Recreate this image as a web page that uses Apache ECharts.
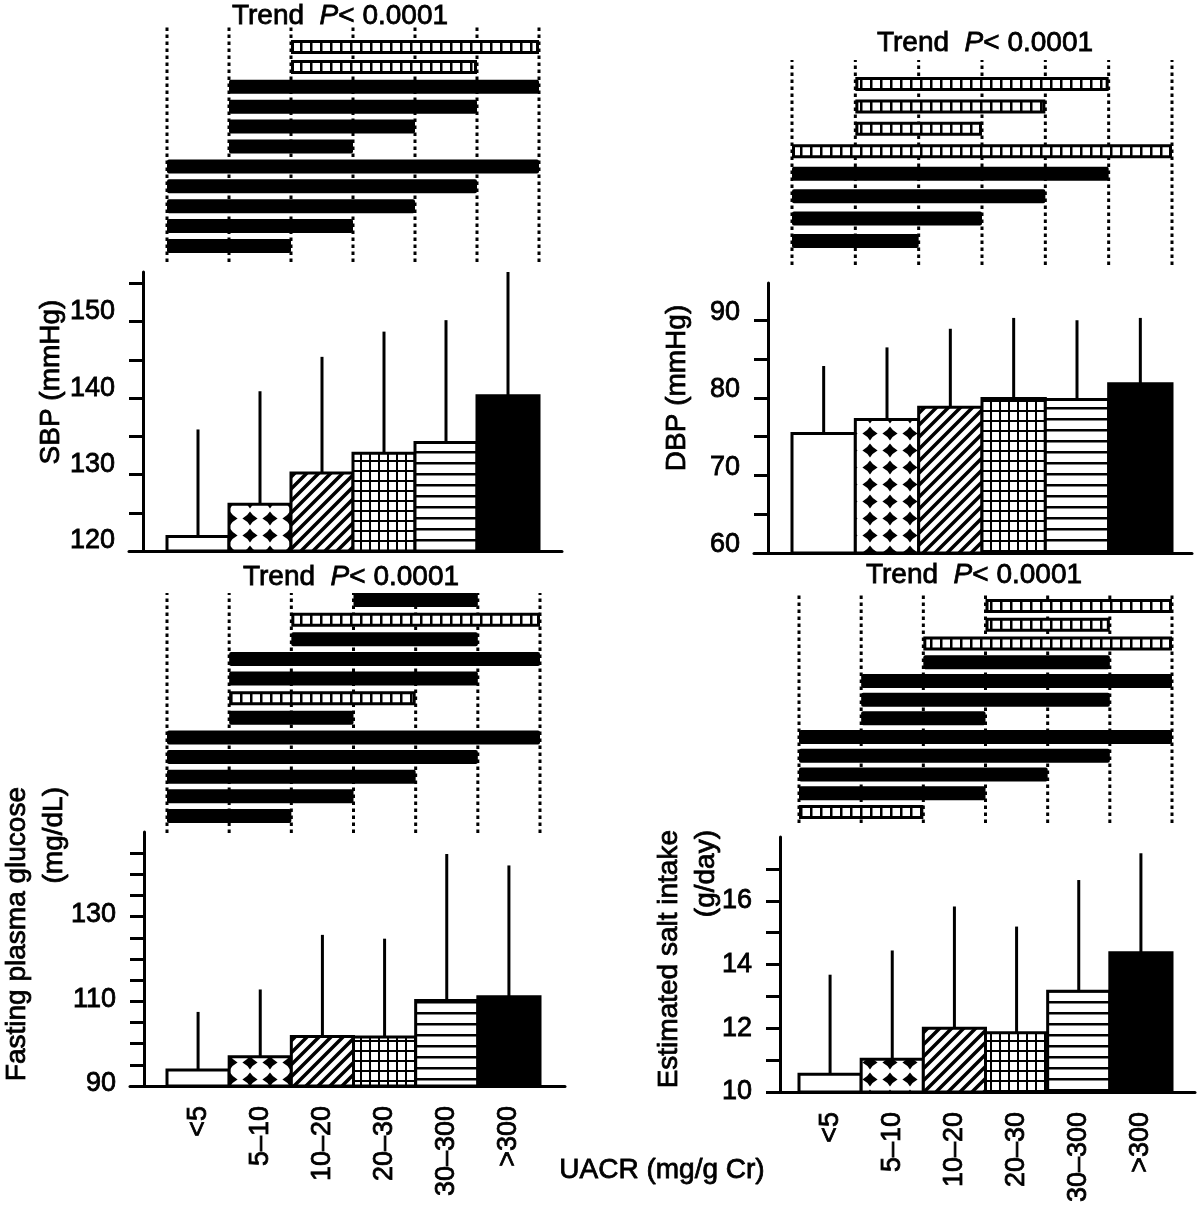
<!DOCTYPE html>
<html><head><meta charset="utf-8">
<script src="https://cdn.jsdelivr.net/npm/echarts@6/dist/echarts.min.js"></script>
<style>html,body{margin:0;padding:0;background:#fff}#c{width:1200px;height:1213px}</style>
</head><body><div id="c"></div>
<script>
// ---------------- DATA ----------------
const categories = ['<5', '5–10', '10–20', '20–30', '30–300', '>300'];

const sbpMean  = [121.9, 126.1, 130.2, 132.8, 134.2, 140.3];
const sbpUpper = [135.9, 140.9, 145.4, 148.7, 150.2, 156.5];   // mean + SD
const dbpMean  = [75.4, 77.2, 78.8, 79.9, 79.8, 81.8];
const dbpUpper = [84.1, 86.5, 88.9, 90.3, 90.0, 90.3];
const fpgMean  = [93.8, 96.9, 101.7, 101.6, 110.2, 111.1];
const fpgUpper = [107.5, 112.8, 125.7, 124.8, 144.8, 142.1];
const saltMean  = [10.56, 11.03, 12.0, 11.86, 13.16, 14.37];
const saltUpper = [13.68, 14.44, 15.82, 15.19, 16.65, 17.49];

const sbpRange = [120, 156.5];
const dbpRange = [60, 94.8];
const fpgRange = [90, 150];
const saltRange = [10, 18];

const sbpTicks = [120, 125, 130, 135, 140, 145, 150, 155];
const sbpTickLabels = [120, 130, 140, 150];
const dbpTicks = [60, 65, 70, 75, 80, 85, 90];
const dbpTickLabels = [60, 70, 80, 90];
const fpgTicks = [90, 95, 100, 105, 110, 115, 120, 125, 130, 135, 140, 145];
const fpgTickLabels = [90, 110, 130];
const saltTicks = [10, 11, 12, 13, 14, 15, 16, 17];
const saltTickLabels = [10, 12, 14, 16];

// pairwise comparisons, listed top to bottom: [first group, last group, 's' solid | 'h' hatched]
const sbpPairs = [[2,5,'h'],[2,4,'h'],[1,5,'s'],[1,4,'s'],[1,3,'s'],[1,2,'s'],[0,5,'s'],[0,4,'s'],[0,3,'s'],[0,2,'s'],[0,1,'s']];
const dbpPairs = [[1,4,'h'],[1,3,'h'],[1,2,'h'],[0,5,'h'],[0,4,'s'],[0,3,'s'],[0,2,'s'],[0,1,'s']];
const fpgPairs = [[3,4,'s'],[2,5,'h'],[2,4,'s'],[1,5,'s'],[1,4,'s'],[1,3,'h'],[1,2,'s'],[0,5,'s'],[0,4,'s'],[0,3,'s'],[0,2,'s'],[0,1,'s']];
const saltPairs = [[3,5,'h'],[3,4,'h'],[2,5,'h'],[2,4,'s'],[1,5,'s'],[1,4,'s'],[1,2,'s'],[0,5,'s'],[0,4,'s'],[0,3,'s'],[0,2,'s'],[0,1,'h']];

const sbpName = 'SBP (mmHg)';
const dbpName = 'DBP (mmHg)';
const fpgName = 'Fasting plasma glucose\n(mg/dL)';
const saltName = 'Estimated salt intake\n(g/day)';
const xName = 'UACR (mg/g Cr)';

// ---------------- STYLE ----------------
const FONT = "'Liberation Sans', Arial, Helvetica, sans-serif";
const TB = 0.8; // text thickening stroke

function mk(w, h, draw) {
  const c = document.createElement('canvas'); c.width = w; c.height = h;
  const g = c.getContext('2d');
  g.fillStyle = '#fff'; g.fillRect(0, 0, w, h);
  g.fillStyle = '#000'; g.strokeStyle = '#000';
  draw(g, w, h);
  return { image: c, repeat: 'repeat' };
}
const diamondFill = mk(20, 17, (g, w, h) => {
  const cx = w / 2, cy = h / 2, rx = 7.6, ry = 7.0, k = 2.6;
  g.beginPath();
  g.moveTo(cx - rx, cy);
  g.quadraticCurveTo(cx - k, cy - k, cx, cy - ry);
  g.quadraticCurveTo(cx + k, cy - k, cx + rx, cy);
  g.quadraticCurveTo(cx + k, cy + k, cx, cy + ry);
  g.quadraticCurveTo(cx - k, cy + k, cx - rx, cy);
  g.closePath(); g.fill();
});
const diagFill = mk(12, 12, (g, w, h) => {
  g.lineWidth = 3.5; g.beginPath();
  g.moveTo(-2, h + 2); g.lineTo(w + 2, -2);
  g.moveTo(-2 - w, h + 2); g.lineTo(2, -2);
  g.moveTo(w - 2, h + 2); g.lineTo(2 * w + 2, -2);
  g.stroke();
});
const gridFill = mk(9, 10, (g, w, h) => { g.fillRect(0, 0, 2, h); g.fillRect(0, 0, w, 2); });
const hlineFill = mk(4, 11, (g, w, h) => { g.fillRect(0, 0, w, 2.5); });
const ladderFill = mk(10, 4, (g, w, h) => { g.fillRect(0, 0, 2.5, h); });
const barFills = ['#fff', diamondFill, diagFill, gridFill, hlineFill, '#000'];

// panel geometry (pixels)
const panels = [
  { mean: sbpMean, upper: sbpUpper, range: sbpRange, ticks: sbpTicks, tickLabels: sbpTickLabels, pairs: sbpPairs, name: sbpName, cats: false,
    cmp: { l: 167, r: 539, t: 27, b: 262, rowT: 47, rowB: 246 },
    bar: { l: 129, r: 562, yx: 143, bl: 167, br: 539, t: 272, b: 551 },
    trend: [340, 16], nameAt: [51, 382], nameAlign: 'center', labShift: 10 },
  { mean: dbpMean, upper: dbpUpper, range: dbpRange, ticks: dbpTicks, tickLabels: dbpTickLabels, pairs: dbpPairs, name: dbpName, cats: false,
    cmp: { l: 792, r: 1172, t: 60, b: 265, rowT: 84, rowB: 241 },
    bar: { l: 754, r: 1192, yx: 768, bl: 792, br: 1172, t: 283, b: 553 },
    trend: [985, 43], nameAt: [677, 388], nameAlign: 'center', labShift: 8 },
  { mean: fpgMean, upper: fpgUpper, range: fpgRange, ticks: fpgTicks, tickLabels: fpgTickLabels, pairs: fpgPairs, name: fpgName, cats: true,
    cmp: { l: 167, r: 540, t: 593, b: 833, rowT: 600, rowB: 816 },
    bar: { l: 130, r: 565, yx: 144, bl: 167, br: 540, t: 832, b: 1086 },
    trend: [351, 577], nameAt: [36, 787], nameAlign: 'right', labShift: 2 },
  { mean: saltMean, upper: saltUpper, range: saltRange, ticks: saltTicks, tickLabels: saltTickLabels, pairs: saltPairs, name: saltName, cats: true,
    cmp: { l: 799, r: 1172, t: 592, b: 823, rowT: 606, rowB: 812 },
    bar: { l: 768, r: 1195, yx: 780, bl: 799, br: 1172, t: 837, b: 1092 },
    trend: [974, 575], nameAt: [688, 830], nameAlign: 'right', labShift: 0 }
];

const grids = [], xAxes = [], yAxes = [], series = [], graphics = [];
const nCat = categories.length;
const boundaries = categories.map((c, i) => [i]).concat([[nCat]]);

panels.forEach(P => {
  // ---- comparison diagram ----
  const c = P.cmp, gi = grids.length, n = P.pairs.length;
  const sp = (c.rowB - c.rowT) / (n - 1);
  const yMin = -(c.b - c.rowB) / sp, yMax = (n - 1) + (c.rowT - c.t) / sp;
  grids.push({ left: c.l, top: c.t, width: c.r - c.l, height: c.b - c.t });
  xAxes.push({ type: 'value', gridIndex: gi, min: 0, max: nCat, show: false });
  yAxes.push({ type: 'value', gridIndex: gi, min: yMin, max: yMax, show: false });
  series.push({
    type: 'custom', xAxisIndex: gi, yAxisIndex: gi, silent: true, z: 1, data: boundaries,
    renderItem: (params, api) => {
      const b = api.value(0), p0 = api.coord([b, yMin]), p1 = api.coord([b, yMax]);
      return { type: 'line', shape: { x1: p0[0], y1: p0[1], x2: p1[0], y2: p1[1] },
        style: { stroke: '#000', lineWidth: 3, lineDash: [3.5, 3.5] } };
    }
  });
  series.push({
    type: 'custom', xAxisIndex: gi, yAxisIndex: gi, silent: true, z: 3,
    data: P.pairs.map((p, k) => [p[0], p[1] + 1, n - 1 - k, p[2] === 'h' ? 1 : 0]),
    renderItem: (params, api) => {
      const row = api.value(2);
      const a = api.coord([api.value(0), row]), b = api.coord([api.value(1), row]);
      const h = 14;
      if (api.value(3) === 1) {
        return { type: 'rect', shape: { x: a[0] + 1.5, y: a[1] - h / 2 + 1.5, width: b[0] - a[0] - 3, height: h - 3 },
          style: { fill: ladderFill, stroke: '#000', lineWidth: 3 } };
      }
      return { type: 'rect', shape: { x: a[0], y: a[1] - h / 2, width: b[0] - a[0], height: h, r: 2 }, style: { fill: '#000' } };
    }
  });

  // ---- bar chart ----
  const B = P.bar, bi = grids.length, w = (B.br - B.bl) / nCat;
  grids.push({ left: B.l, top: B.t, width: B.r - B.l, height: B.b - B.t });
  xAxes.push({
    type: 'value', gridIndex: bi, min: -(B.bl - B.l) / w, max: nCat + (B.r - B.br) / w,
    axisLine: { show: true, onZero: false, lineStyle: { color: '#000', width: 3 } },
    axisTick: { show: false }, splitLine: { show: false },
    axisLabel: P.cats ? {
      show: true, customValues: categories.map((c2, i) => i + 0.5),
      formatter: v => categories[Math.floor(v)], rotate: 90, margin: 20,
      fontSize: 27, fontFamily: FONT, color: '#000', textBorderColor: '#000', textBorderWidth: TB
    } : { show: false }
  });
  yAxes.push({
    type: 'value', gridIndex: bi, min: P.range[0], max: P.range[1], offset: -(B.yx - B.l),
    axisLine: { show: true, onZero: false, lineStyle: { color: '#000', width: 3 } },
    axisTick: { show: true, length: 14, customValues: P.ticks, lineStyle: { color: '#000', width: 3 } },
    axisLabel: { show: true, customValues: P.tickLabels, margin: 28,
      formatter: '{a|{value}}',
      rich: { a: { color: '#000', fontSize: 27, fontFamily: FONT, textBorderColor: '#000', textBorderWidth: TB,
        padding: [0, 0, 2 * P.labShift, 0] } } },
    splitLine: { show: false }
  });
  const yLo = P.range[0];
  series.push({
    type: 'custom', xAxisIndex: bi, yAxisIndex: bi, silent: true, z: 3, clip: false,
    data: P.mean.map((m, i) => [i, m, P.upper[i]]),
    renderItem: (params, api) => {
      const i = api.value(0), m = api.value(1), u = api.value(2);
      const p0 = api.coord([i, yLo]), p1 = api.coord([i + 1, m]);
      const pc = api.coord([i + 0.5, m]), pu = api.coord([i + 0.5, u]);
      return { type: 'group', children: [
        { type: 'line', shape: { x1: pc[0], y1: pc[1], x2: pu[0], y2: pu[1] }, style: { stroke: '#000', lineWidth: 3 } },
        { type: 'rect', shape: { x: p0[0], y: p1[1], width: p1[0] - p0[0], height: p0[1] - p1[1] },
          style: { fill: barFills[i], stroke: '#000', lineWidth: 3 } }
      ] };
    }
  });

  // ---- texts ----
  const rs = { fontSize: 28, fontFamily: FONT, fill: '#000' };
  graphics.push({
    type: 'text', x: P.trend[0], y: P.trend[1],
    style: { text: '{n|Trend  }{i|P}{n|< 0.0001}', fill: '#000', stroke: '#000', lineWidth: TB,
      rich: { n: rs, i: Object.assign({}, rs, { fontStyle: 'italic' }) },
      align: 'center', verticalAlign: 'middle', textAlign: 'center', textVerticalAlign: 'middle' }
  });
  graphics.push({
    type: 'text', x: P.nameAt[0], y: P.nameAt[1], rotation: Math.PI / 2,
    style: { text: P.name, font: '28px ' + FONT, fill: '#000', stroke: '#000', lineWidth: TB, lineHeight: 37,
      align: P.nameAlign, verticalAlign: 'middle', textAlign: P.nameAlign, textVerticalAlign: 'middle' }
  });
});

graphics.push({
  type: 'text', x: 662, y: 1170,
  style: { text: xName, font: '28px ' + FONT, fill: '#000', stroke: '#000', lineWidth: TB,
    align: 'center', verticalAlign: 'middle', textAlign: 'center', textVerticalAlign: 'middle' }
});

const chart = echarts.init(document.getElementById('c'), null, { renderer: 'canvas' });
chart.setOption({
  animation: false,
  backgroundColor: '#fff',
  grid: grids, xAxis: xAxes, yAxis: yAxes, series: series, graphic: graphics
});
</script>
</body></html>
